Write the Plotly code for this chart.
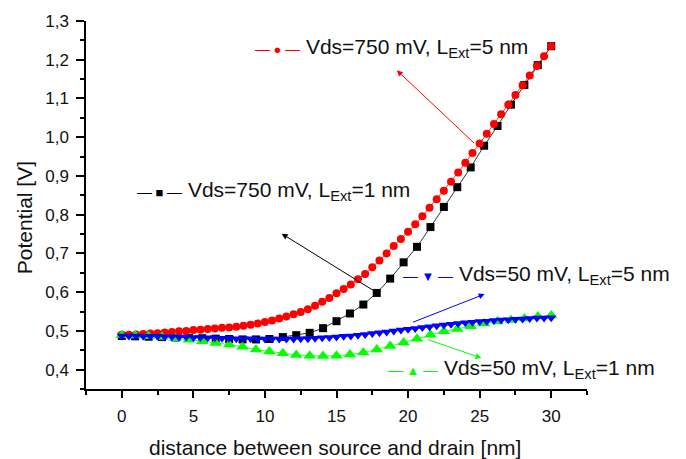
import numpy as np
import plotly.graph_objects as go

# ---------------- data ----------------
x_fine = [i * 0.5 for i in range(61)]          # 0 .. 30 nm, step 0.5
x_coarse = [i * 30 / 32 for i in range(33)]    # 0 .. 30 nm, 33 points

red_750_5 = [0.490, 0.490, 0.491, 0.492, 0.493, 0.494, 0.496, 0.497, 0.499, 0.500,
             0.502, 0.503, 0.505, 0.506, 0.508, 0.509, 0.511, 0.513, 0.516, 0.519,
             0.523, 0.527, 0.532, 0.537, 0.543, 0.549, 0.556, 0.565, 0.575, 0.585,
             0.597, 0.608, 0.620, 0.633, 0.647, 0.664, 0.682, 0.700, 0.719, 0.737,
             0.756, 0.775, 0.796, 0.818, 0.840, 0.862, 0.885, 0.909, 0.934, 0.959,
             0.984, 1.009, 1.034, 1.059, 1.084, 1.109, 1.134, 1.159, 1.184, 1.209,
             1.235]

blue_50_5 = [0.487, 0.487, 0.487, 0.486, 0.486, 0.486, 0.485, 0.485, 0.484, 0.484,
             0.483, 0.483, 0.482, 0.482, 0.481, 0.481, 0.480, 0.480, 0.480, 0.479,
             0.479, 0.479, 0.479, 0.479, 0.479, 0.480, 0.480, 0.481, 0.482, 0.483,
             0.484, 0.486, 0.487, 0.489, 0.491, 0.493, 0.495, 0.497, 0.500, 0.502,
             0.504, 0.506, 0.509, 0.511, 0.513, 0.515, 0.517, 0.519, 0.521, 0.522,
             0.524, 0.525, 0.527, 0.528, 0.529, 0.530, 0.531, 0.532, 0.533, 0.533,
             0.534]

black_750_1 = [0.487, 0.486, 0.485, 0.484, 0.483, 0.482, 0.481, 0.480, 0.479, 0.478,
               0.478, 0.479, 0.484, 0.489, 0.495, 0.507, 0.525, 0.545, 0.568, 0.598,
               0.635, 0.677, 0.717, 0.768, 0.820, 0.871, 0.922, 0.978, 1.029, 1.084,
               1.135, 1.186, 1.235]

green_50_1 = [0.489, 0.488, 0.486, 0.484, 0.481, 0.477, 0.473, 0.469, 0.465, 0.459,
              0.452, 0.447, 0.442, 0.438, 0.436, 0.435, 0.436, 0.439, 0.444, 0.452,
              0.461, 0.470, 0.480, 0.490, 0.499, 0.505, 0.512, 0.519, 0.524, 0.528,
              0.532, 0.537, 0.540]

labels = {
    "red": "Vds=750 mV, L<sub>Ext</sub>=5 nm",
    "black": "Vds=750 mV, L<sub>Ext</sub>=1 nm",
    "blue": "Vds=50 mV, L<sub>Ext</sub>=5 nm",
    "green": "Vds=50 mV, L<sub>Ext</sub>=1 nm",
}

x_title = "distance between source and drain [nm]"
y_title = "Potential [V]"

# ---------------- figure ----------------
FONT = "Liberation Sans, Arial, sans-serif"
RED, BLACK, BLUE, GREEN = "#ff0000", "#000000", "#0000ff", "#00ff00"

fig = go.Figure()
fig.add_trace(go.Scatter(x=x_coarse, y=black_750_1, mode="lines+markers",
                         line=dict(color=BLACK, width=0.8),
                         marker=dict(symbol="square", size=8, color=BLACK)))
fig.add_trace(go.Scatter(x=x_fine, y=red_750_5, mode="lines+markers",
                         line=dict(color=RED, width=0.8),
                         marker=dict(symbol="circle", size=8, color=RED)))
fig.add_trace(go.Scatter(x=x_coarse, y=green_50_1, mode="lines+markers",
                         line=dict(color=GREEN, width=0.8),
                         marker=dict(symbol="triangle-up", size=11, color=GREEN)))
fig.add_trace(go.Scatter(x=x_fine, y=blue_50_5, mode="lines+markers",
                         line=dict(color=BLUE, width=0.8),
                         marker=dict(symbol="triangle-down", size=9, color=BLUE)))


def sample(color, glyph):
    return (f"<span style='color:{color};font-size:15px'>—</span>"
            f"<span style='color:{color};font-size:13px'> {glyph} </span>"
            f"<span style='color:{color};font-size:15px'>—</span> ")


label_specs = [
    (9.17, 1.231, RED, "●", labels["red"]),
    (0.93, 0.861, BLACK, "■", labels["black"]),
    (19.54, 0.645, BLUE, "▼", labels["blue"]),
    (18.49, 0.402, GREEN, "▲", labels["green"]),
]
for lx, ly, col, g, txt in label_specs:
    fig.add_annotation(x=lx, y=ly, xref="x", yref="y", xanchor="left", yanchor="middle",
                       text=sample(col, g) + txt, showarrow=False,
                       font=dict(family=FONT, size=21, color="#111111"))

arrow_specs = [
    (19.21, 1.173, 24.72, 0.981, RED),
    (11.17, 0.751, 17.68, 0.602, BLACK),
    (25.35, 0.595, 20.24, 0.521, BLUE),
    (25.12, 0.430, 21.28, 0.479, GREEN),
]
for hx, hy, tx, ty, col in arrow_specs:
    fig.add_annotation(x=hx, y=hy, ax=tx, ay=ty, xref="x", yref="y", axref="x", ayref="y",
                       text="", showarrow=True, arrowhead=2, arrowsize=1.2,
                       arrowwidth=1, arrowcolor=col)

fig.add_annotation(x=-0.1228, y=0.4654, xref="paper", yref="paper", text=y_title,
                   textangle=-90, showarrow=False, xanchor="center", yanchor="middle",
                   font=dict(family=FONT, size=21, color="#111111"))
fig.add_annotation(x=0.498, y=-0.158, xref="paper", yref="paper", text=x_title,
                   showarrow=False, xanchor="center", yanchor="middle",
                   font=dict(family=FONT, size=21, color="#111111"))

fig.update_layout(
    width=686, height=459,
    margin=dict(l=86, r=99, t=17, b=70),
    paper_bgcolor="white", plot_bgcolor="white",
    showlegend=False,
    separators=", ",
    font=dict(family=FONT, color="#111111"),
    xaxis=dict(range=[-2.5, 32.5], tick0=0, dtick=5, showgrid=False, zeroline=False,
               showline=True, linecolor="black", linewidth=1.5,
               ticks="outside", ticklen=7, tickwidth=1.5, tickcolor="black",
               ticklabelstandoff=4,
               minor=dict(ticks="outside", ticklen=4, tickwidth=1.5, tickcolor="black",
                          dtick=2.5, tick0=0),
               tickfont=dict(family=FONT, size=17, color="#111111")),
    yaxis=dict(range=[0.35, 1.3], tick0=0.4, dtick=0.1, tickformat=".1f",
               showgrid=False, zeroline=False,
               showline=True, linecolor="black", linewidth=1.5,
               ticks="outside", ticklen=8, tickwidth=1.5, tickcolor="black",
               ticklabelstandoff=4,
               minor=dict(ticks="outside", ticklen=4, tickwidth=1.5, tickcolor="black",
                          dtick=0.05, tick0=0.35),
               tickfont=dict(family=FONT, size=17, color="#111111")),
)

fig.write_html("out.html")
